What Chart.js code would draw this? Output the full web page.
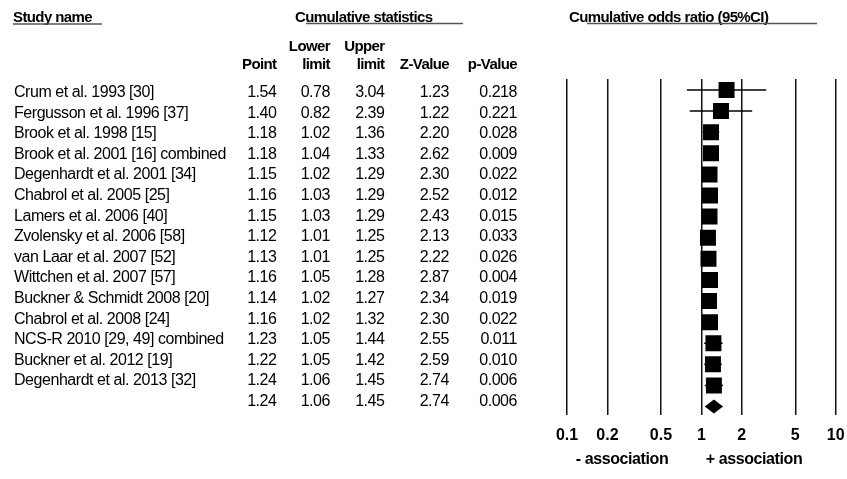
<!DOCTYPE html>
<html>
<head>
<meta charset="utf-8">
<script src="https://cdn.jsdelivr.net/npm/chart.js@4.4.1/dist/chart.umd.min.js"></script>
<style>
  html, body { margin: 0; padding: 0; background: #fff; }
  #wrap { width: 847px; height: 479px; }
</style>
</head>
<body>
<div id="wrap"><canvas id="forest" width="847" height="479"></canvas></div>
<script>
// Cumulative meta-analysis: one row per added study
const studies = [
  'Crum et al. 1993 [30]',
  'Fergusson et al. 1996 [37]',
  'Brook et al. 1998 [15]',
  'Brook et al. 2001 [16] combined',
  'Degenhardt et al. 2001 [34]',
  'Chabrol et al. 2005 [25]',
  'Lamers et al. 2006 [40]',
  'Zvolensky et al. 2006 [58]',
  'van Laar et al. 2007 [52]',
  'Wittchen et al. 2007 [57]',
  'Buckner & Schmidt 2008 [20]',
  'Chabrol et al. 2008 [24]',
  'NCS-R 2010 [29, 49] combined',
  'Buckner et al. 2012 [19]',
  'Degenhardt et al. 2013 [32]'
];
const pointEst   = [1.54, 1.40, 1.18, 1.18, 1.15, 1.16, 1.15, 1.12, 1.13, 1.16, 1.14, 1.16, 1.23, 1.22, 1.24];
const lowerLimit = [0.78, 0.82, 1.02, 1.04, 1.02, 1.03, 1.03, 1.01, 1.01, 1.05, 1.02, 1.02, 1.05, 1.05, 1.06];
const upperLimit = [3.04, 2.39, 1.36, 1.33, 1.29, 1.29, 1.29, 1.25, 1.25, 1.28, 1.27, 1.32, 1.44, 1.42, 1.45];
const zValue     = [1.23, 1.22, 2.20, 2.62, 2.30, 2.52, 2.43, 2.13, 2.22, 2.87, 2.34, 2.30, 2.55, 2.59, 2.74];
const pValue     = [0.218, 0.221, 0.028, 0.009, 0.022, 0.012, 0.015, 0.033, 0.026, 0.004, 0.019, 0.022, 0.011, 0.010, 0.006];

// Overall summary: point, lower, upper, Z, p
const overall = [1.24, 1.06, 1.45, 2.74, 0.006];

// Odds-ratio axis ticks
const xTicks = [0.1, 0.2, 0.5, 1, 2, 5, 10];

const FONT = "'Liberation Sans', Arial, Helvetica, sans-serif";

// Table layout (column right edges, row baselines)
const colRight = [276.5, 330, 384.5, 449, 517];
const nameLeft = 14;
const rowBase0 = 97;
const rowStep = 20.6;

function txt(ctx, s, x, y, opts) {
  ctx.save();
  ctx.font = (opts.bold ? 'bold ' : '') + opts.size + 'px ' + FONT;
  ctx.fillStyle = '#000';
  ctx.textAlign = opts.align || 'left';
  ctx.textBaseline = 'alphabetic';
  if ('letterSpacing' in ctx) ctx.letterSpacing = (opts.ls != null ? opts.ls : -0.45) + 'px';
  ctx.fillText(s, x, y);
  ctx.restore();
}

function hline(ctx, x1, x2, y) {
  ctx.save();
  ctx.strokeStyle = '#555';
  ctx.lineWidth = 1.5;
  ctx.beginPath();
  ctx.moveTo(x1, y);
  ctx.lineTo(x2, y);
  ctx.stroke();
  ctx.restore();
}

const forestPlugin = {
  id: 'forestTable',
  beforeDatasetsDraw(chart) {
    const { ctx, scales: { x, y } } = chart;
    ctx.save();
    ctx.strokeStyle = '#000';
    ctx.lineWidth = 1.5;
    for (let i = 0; i < studies.length; i++) {
      const py = y.getPixelForValue(i);
      ctx.beginPath();
      ctx.moveTo(x.getPixelForValue(lowerLimit[i]), py);
      ctx.lineTo(x.getPixelForValue(upperLimit[i]), py);
      ctx.stroke();
    }
    ctx.restore();
  },
  afterDatasetsDraw(chart) {
    const { ctx, scales: { x, y } } = chart;
    // summary diamond
    const py = y.getPixelForValue(studies.length);
    const h = 7;
    ctx.save();
    ctx.fillStyle = '#000';
    ctx.beginPath();
    ctx.moveTo(x.getPixelForValue(overall[1]), py);
    ctx.lineTo(x.getPixelForValue(overall[0]), py - h);
    ctx.lineTo(x.getPixelForValue(overall[2]), py);
    ctx.lineTo(x.getPixelForValue(overall[0]), py + h);
    ctx.closePath();
    ctx.fill();
    ctx.restore();
  },
  afterDraw(chart) {
    const ctx = chart.ctx;
    // group headers
    txt(ctx, 'Study name', 13, 21.5, { bold: true, size: 15, ls: -0.6 });
    hline(ctx, 13, 102, 24);
    txt(ctx, 'Cumulative statistics', 295, 21.5, { bold: true, size: 15, ls: -0.6 });
    hline(ctx, 306, 463, 23.5);
    txt(ctx, 'Cumulative odds ratio (95%CI)', 569, 21.5, { bold: true, size: 15, ls: -0.6 });
    hline(ctx, 587, 817, 23.5);

    // column headers
    const hb = { bold: true, size: 15, ls: -0.6, align: 'right' };
    txt(ctx, 'Lower', colRight[1], 51, hb);
    txt(ctx, 'Upper', colRight[2], 51, hb);
    txt(ctx, 'Point', colRight[0], 69, hb);
    txt(ctx, 'limit', colRight[1], 69, hb);
    txt(ctx, 'limit', colRight[2], 69, hb);
    txt(ctx, 'Z-Value', colRight[3], 69, hb);
    txt(ctx, 'p-Value', colRight[4], 69, hb);

    // study rows
    const rows = studies.map((s, i) => [s, pointEst[i], lowerLimit[i], upperLimit[i], zValue[i], pValue[i]]);
    rows.push(['', overall[0], overall[1], overall[2], overall[3], overall[4]]);
    rows.forEach((r, i) => {
      const by = rowBase0 + rowStep * i;
      const o = { size: 16, align: 'right' };
      txt(ctx, r[0], nameLeft, by, { size: 16 });
      txt(ctx, r[1].toFixed(2), colRight[0], by, o);
      txt(ctx, r[2].toFixed(2), colRight[1], by, o);
      txt(ctx, r[3].toFixed(2), colRight[2], by, o);
      txt(ctx, r[4].toFixed(2), colRight[3], by, o);
      txt(ctx, r[5].toFixed(3), colRight[4], by, o);
    });

    // direction labels under the axis
    txt(ctx, '- association', 622, 464, { bold: true, size: 16, ls: -0.4, align: 'center' });
    txt(ctx, '+ association', 754, 464, { bold: true, size: 16, ls: -0.4, align: 'center' });
  }
};

new Chart(document.getElementById('forest'), {
  type: 'scatter',
  data: {
    datasets: [{
      data: pointEst.map((v, i) => ({ x: v, y: i })),
      pointStyle: 'rect',
      pointRadius: 11.3,
      backgroundColor: '#000',
      borderColor: '#000',
      borderWidth: 0
    }]
  },
  options: {
    responsive: false,
    animation: false,
    events: [],
    layout: { padding: { left: 567, right: 11, top: 79, bottom: 0 } },
    plugins: { legend: { display: false }, tooltip: { enabled: false } },
    scales: {
      x: {
        type: 'logarithmic',
        min: 0.1,
        max: 10,
        afterBuildTicks: (s) => { s.ticks = xTicks.map(v => ({ value: v })); },
        afterFit: (s) => { s.height = 64; s.paddingLeft = 0; s.paddingRight = 0; },
        ticks: {
          autoSkip: false,
          maxRotation: 0,
          padding: 11,
          color: '#000',
          font: { family: FONT, size: 16, weight: 'bold' },
          callback: (v) => String(v)
        },
        grid: { color: '#111', lineWidth: 1.5, drawTicks: false },
        border: { display: false }
      },
      y: {
        display: false,
        reverse: true,
        min: -0.52,
        max: 15.4
      }
    }
  },
  plugins: [forestPlugin]
});
</script>
</body>
</html>
